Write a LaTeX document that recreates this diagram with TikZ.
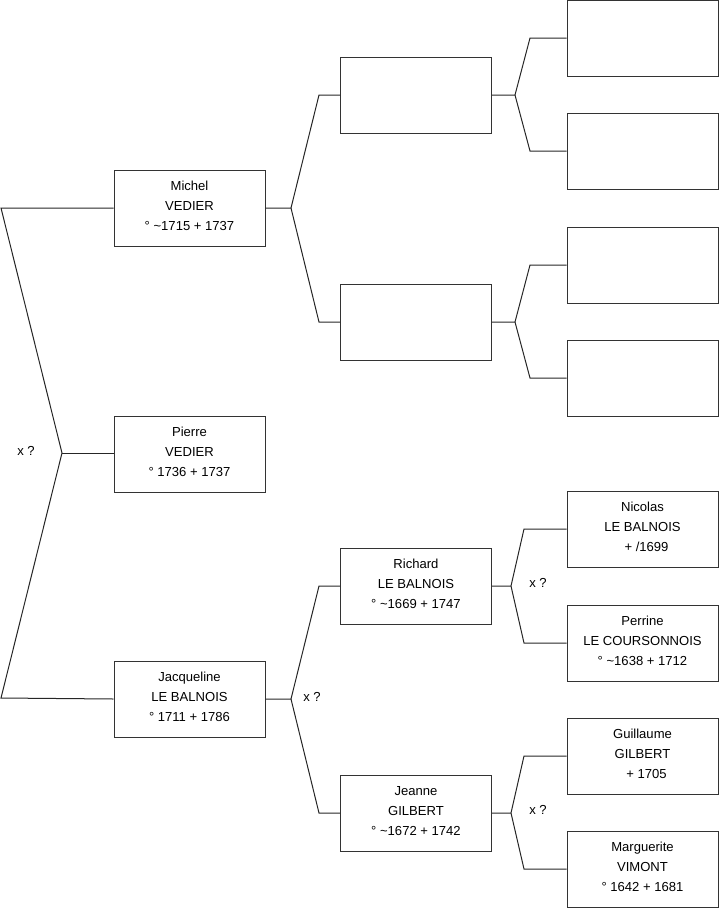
\documentclass[tikz,border=0pt]{standalone}
\usepackage{fontspec}
\setmainfont{Liberation Sans}
\newcommand{\tl}{\textasciitilde}
\begin{document}
\begin{tikzpicture}[x=0.75pt,y=-0.75pt,
  person/.style={draw=black!80, line width=0.75pt, minimum width=113.25pt, minimum height=57pt,
    align=center, font=\fontsize{9.8}{15}\selectfont, inner sep=0pt, text depth=3pt, fill=white},
  link/.style={line width=0.75pt, draw=black!85},
  lbl/.style={font=\fontsize{9.8}{11}\selectfont, inner sep=0pt}]
\useasboundingbox (0,0) rectangle (719,908);
% generation 1
\node[person] (m) at (189.5,208) {Michel\\VEDIER\\° \tl1715 + 1737};
\node[person] (p) at (189.5,454) {Pierre\\VEDIER\\° 1736 + 1737};
\node[person] (j) at (189.5,699) {Jacqueline\\LE BALNOIS\\° 1711 + 1786};
% generation 2
\node[person] (a) at (416,95) {};
\node[person] (b) at (416,322) {};
\node[person] (c) at (416,586) {Richard\\LE BALNOIS\\° \tl1669 + 1747};
\node[person] (d) at (416,813) {Jeanne\\GILBERT\\° \tl1672 + 1742};
% generation 3
\node[person] (a1) at (642.5,38) {};
\node[person] (a2) at (642.5,151) {};
\node[person] (b1) at (642.5,265) {};
\node[person] (b2) at (642.5,378) {};
\node[person] (c1) at (642.5,529) {Nicolas\\LE BALNOIS\\\hspace*{6pt}+ /1699};
\node[person] (c2) at (642.5,643) {Perrine\\LE COURSONNOIS\\° \tl1638 + 1712};
\node[person] (d1) at (642.5,756) {Guillaume\\GILBERT\\\hspace*{6pt}+ 1705};
\node[person] (d2) at (642.5,869) {Marguerite\\VIMONT\\° 1642 + 1681};
% root fork
\coordinate (r1) at (1,208);
\coordinate (r2) at (1,698);
\coordinate (rf) at (62,453);
\draw[link] (m.west) -- (r1) -- (rf) -- (r2) -- (j.west);
\draw[link] (rf) -- (p.west |- rf);
\node[lbl] (x0) at (26,451) {x ?};
% Michel fork
\coordinate (mf) at (291,208);
\draw[link] (m.east) -- (mf) -- (319,95) -- (a.west);
\draw[link] (mf) -- (319,322) -- (b.west);
% Jacqueline fork
\coordinate (jf) at (291,699);
\draw[link] (j.east) -- (jf) -- (319,586) -- (c.west);
\draw[link] (jf) -- (319,813) -- (d.west);
\node[lbl] (x1) at (312,697) {x ?};
% gen2 -> gen3 forks
\coordinate (af) at (515,95);
\draw[link] (a.east) -- (af) -- (530,38) -- (a1.west);
\draw[link] (af) -- (530,151) -- (a2.west);
\coordinate (bf) at (515,322);
\draw[link] (b.east) -- (bf) -- (530,265) -- (b1.west);
\draw[link] (bf) -- (530,378) -- (b2.west);
\coordinate (cf) at (511,586);
\draw[link] (c.east) -- (cf) -- (524,529) -- (c1.west);
\draw[link] (cf) -- (524,643) -- (c2.west);
\node[lbl] (x2) at (538,583) {x ?};
\coordinate (df) at (511,813);
\draw[link] (d.east) -- (df) -- (524,756) -- (d1.west);
\draw[link] (df) -- (524,869) -- (d2.west);
\node[lbl] (x3) at (538,810) {x ?};
\end{tikzpicture}
\end{document}
